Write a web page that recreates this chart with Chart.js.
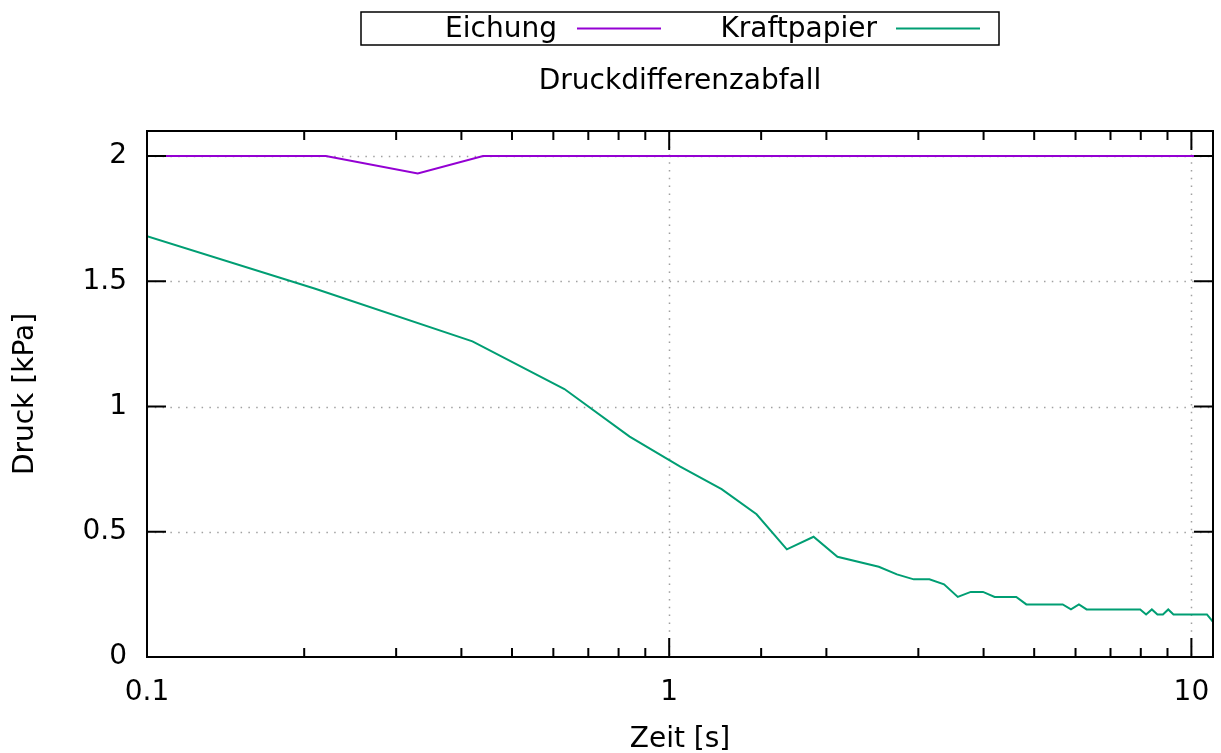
<!DOCTYPE html>
<html>
<head>
<meta charset="utf-8">
<script src="https://cdn.jsdelivr.net/npm/chart.js@4.4.1/dist/chart.umd.min.js"></script>
<style>
  html, body { margin: 0; padding: 0; background: #ffffff; }
  #wrap { width: 1221px; height: 753px; position: relative; }
</style>
</head>
<body>
<div id="wrap"><canvas id="c"></canvas></div>
<script>
// ---- data ----
const chartTitle = 'Druckdifferenzabfall';
const xTitle = 'Zeit [s]';
const yTitle = 'Druck [kPa]';
const seriesNames = ['Eichung', 'Kraftpapier'];

const eichungTime  = [0.1, 0.22, 0.33, 0.44, 11];
const eichungDruck = [2.0, 2.0, 1.93, 2.0, 2.0];

const kraftTime  = [0.1, 0.21, 0.42, 0.63, 0.84, 1.05, 1.26, 1.47, 1.68, 1.89, 2.1, 2.52, 2.73, 2.94, 3.15, 3.36, 3.57, 3.78, 3.99, 4.2, 4.62, 4.83, 5.67, 5.88, 6.09, 6.3, 7.98, 8.19, 8.4, 8.61, 8.82, 9.03, 9.24, 10.71, 11];
const kraftDruck = [1.68, 1.47, 1.26, 1.07, 0.88, 0.76, 0.67, 0.57, 0.43, 0.48, 0.40, 0.36, 0.33, 0.31, 0.31, 0.29, 0.24, 0.26, 0.26, 0.24, 0.24, 0.21, 0.21, 0.19, 0.21, 0.19, 0.19, 0.17, 0.19, 0.17, 0.17, 0.19, 0.17, 0.17, 0.14];

const xMin = 0.1, xMax = 11;
const yMin = 0, yMax = 2.1, yStep = 0.5;
const xLabelValues = [0.1, 1, 10];

// ---- style ----
const FONT = "'DejaVu Sans', 'Liberation Sans', sans-serif";
const FS = 28;
const colEich = '#9400d3';
const colKraft = '#009e73';

Chart.defaults.font.family = FONT;
Chart.defaults.font.size = FS;
Chart.defaults.color = '#000000';

const toPts = (xs, ys) => xs.map((x, i) => ({ x: x, y: ys[i] }));
const isDecade = v => Math.abs(Math.log10(v) - Math.round(Math.log10(v))) < 1e-6;

const framePlugin = {
  id: 'frame',
  beforeDatasetsDraw(chart) {
    const { ctx, chartArea: a, scales } = chart;
    const xs = scales.x, ys = scales.y;
    ctx.save();
    ctx.strokeStyle = '#a0a0a0';
    ctx.lineWidth = 1.5;
    ctx.setLineDash([1.5, 6.3]);
    ys.ticks.forEach(t => {
      if (t.value <= yMin || t.value >= yMax) return;
      const p = Math.round(ys.getPixelForValue(t.value)) + 0.5;
      ctx.beginPath(); ctx.moveTo(a.left, p); ctx.lineTo(a.right, p); ctx.stroke();
    });
    xs.ticks.forEach(t => {
      if (!isDecade(t.value) || t.value <= xMin || t.value >= xMax) return;
      const p = Math.round(xs.getPixelForValue(t.value)) + 0.5;
      ctx.beginPath(); ctx.moveTo(p, a.top); ctx.lineTo(p, a.bottom); ctx.stroke();
    });
    ctx.restore();
  },
  afterDatasetsDraw(chart) {
    const { ctx, chartArea: a, scales } = chart;
    const xs = scales.x, ys = scales.y;
    ctx.save();
    ctx.strokeStyle = '#000000';
    ctx.lineWidth = 2;
    ctx.setLineDash([]);
    ys.ticks.forEach(t => {
      if (t.value < yMin || t.value > yMax) return;
      const p = ys.getPixelForValue(t.value);
      ctx.beginPath();
      ctx.moveTo(a.left, p); ctx.lineTo(a.left + 19, p);
      ctx.moveTo(a.right, p); ctx.lineTo(a.right - 19, p);
      ctx.stroke();
    });
    xs.ticks.forEach(t => {
      if (t.value <= xMin || t.value >= xMax) return;
      const p = xs.getPixelForValue(t.value);
      const len = isDecade(t.value) ? 19 : 9;
      ctx.beginPath();
      ctx.moveTo(p, a.bottom); ctx.lineTo(p, a.bottom - len);
      ctx.moveTo(p, a.top); ctx.lineTo(p, a.top + len);
      ctx.stroke();
    });
    ctx.strokeRect(a.left, a.top, a.right - a.left, a.bottom - a.top);
    ctx.restore();
  },
  afterDraw(chart) {
    const { ctx, chartArea: a } = chart;
    ctx.save();
    ctx.font = FS + 'px ' + FONT;
    ctx.fillStyle = '#000000';
    // title centred over the plot area
    ctx.textAlign = 'center';
    ctx.textBaseline = 'middle';
    ctx.fillText(chartTitle, (a.left + a.right) / 2, 82);
    // legend box
    const box = { left: 361, top: 12, right: 999, bottom: 45 };
    const entries = [
      { textRight: 557, lineFrom: 577, lineTo: 661 },
      { textRight: 877, lineFrom: 896, lineTo: 980 }
    ];
    ctx.strokeStyle = '#000000';
    ctx.lineWidth = 1.5;
    ctx.strokeRect(box.left, box.top, box.right - box.left, box.bottom - box.top);
    const cy = (box.top + box.bottom) / 2;
    ctx.textAlign = 'right';
    chart.data.datasets.forEach((ds, i) => {
      const e = entries[i];
      ctx.fillStyle = '#000000';
      ctx.fillText(ds.label, e.textRight, cy + 1);
      ctx.strokeStyle = ds.borderColor;
      ctx.lineWidth = 2;
      ctx.beginPath(); ctx.moveTo(e.lineFrom, cy); ctx.lineTo(e.lineTo, cy); ctx.stroke();
    });
    ctx.restore();
  }
};

new Chart(document.getElementById('c'), {
  type: 'line',
  data: {
    datasets: [
      { label: seriesNames[0], data: toPts(eichungTime, eichungDruck), borderColor: colEich, backgroundColor: colEich, borderWidth: 2, pointRadius: 0, tension: 0, fill: false },
      { label: seriesNames[1], data: toPts(kraftTime, kraftDruck), borderColor: colKraft, backgroundColor: colKraft, borderWidth: 2, pointRadius: 0, tension: 0, fill: false }
    ]
  },
  options: {
    responsive: true,
    maintainAspectRatio: false,
    animation: false,
    events: [],
    layout: { padding: { left: 0, right: 8, top: 131, bottom: 0 } },
    plugins: {
      legend: { display: false },
      tooltip: { enabled: false },
      title: { display: false }
    },
    scales: {
      x: {
        type: 'logarithmic',
        position: 'bottom',
        min: xMin,
        max: xMax,
        grid: { display: false, drawTicks: false },
        border: { display: false },
        ticks: {
          autoSkip: false,
          maxRotation: 0,
          minRotation: 0,
          padding: 19,
          color: '#000000',
          font: { size: FS },
          callback: function (v) {
            const hit = xLabelValues.find(l => Math.abs(l - v) < 1e-9);
            return hit !== undefined ? String(hit) : '';
          }
        },
        title: { display: true, text: xTitle, color: '#000000', font: { size: FS }, padding: { top: 0, bottom: -4 } },
        afterFit: s => { s.height = 96; s.paddingLeft = 0; s.paddingRight = 0; }
      },
      y: {
        type: 'linear',
        position: 'left',
        min: yMin,
        max: yMax,
        grid: { display: false, drawTicks: false },
        border: { display: false },
        ticks: {
          stepSize: yStep,
          includeBounds: false,
          padding: 20,
          color: '#000000',
          font: { size: FS },
          callback: v => String(Number(v))
        },
        title: { display: true, text: yTitle, color: '#000000', font: { size: FS }, padding: { top: 9, bottom: 0 } },
        afterFit: s => { s.width = 147; s.paddingTop = 0; s.paddingBottom = 0; }
      }
    }
  },
  plugins: [framePlugin]
});
</script>
</body>
</html>
